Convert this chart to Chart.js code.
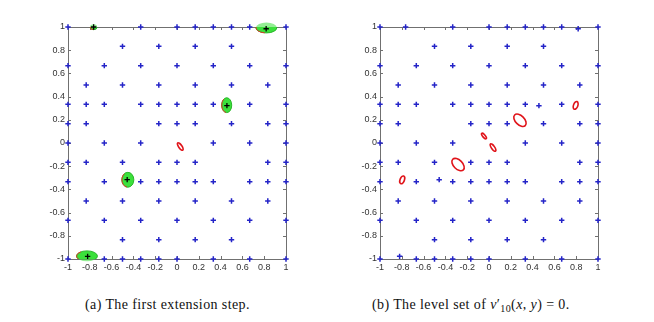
<!DOCTYPE html>
<html>
<head>
<meta charset="utf-8">
<script src="https://cdn.jsdelivr.net/npm/chart.js@4/dist/chart.umd.min.js"></script>
<style>
  body { margin: 0; background: #fff; }
  #page { position: relative; width: 654px; height: 322px; overflow: hidden; background: #fff; }
  .panel { position: absolute; top: 17px; }
  .caption { position: absolute; top: 297px; font-family: 'Liberation Serif', serif; font-size: 14px; letter-spacing: 0.4px; color: #111; white-space: nowrap; }
  .caption sub { font-size: 10px; vertical-align: -3px; }
</style>
</head>
<body>
<div id="page">
  <div class="panel" style="left:30px"><canvas id="chartA" width="266" height="262"></canvas></div>
  <div class="panel" style="left:342px"><canvas id="chartB" width="266" height="262"></canvas></div>
  <div class="caption" style="left:85px">(a) The first extension step.</div>
  <div class="caption" style="left:372px">(b) The level set of <i>v</i>′<sub>10</sub>(<i>x</i>, <i>y</i>) = 0.</div>
</div>
<script>
// axis ticks
const tickValues = [-1, -0.8, -0.6, -0.4, -0.2, 0, 0.2, 0.4, 0.6, 0.8, 1];
const tickLabels = ['-1', '-0.8', '-0.6', '-0.4', '-0.2', '0', '0.2', '0.4', '0.6', '0.8', '1'];

// nodes, one row per y level
const rowLevels = [1, 0.833, 0.667, 0.5, 0.333, 0.167, 0, -0.167, -0.333, -0.5, -0.667, -0.833, -1];
const rowPoints = [
    [-1, -0.333, 0, 0.167, 0.333, 0.5, 0.667, 1],
    [-0.5, -0.167, 0.167, 0.5],
    [-1, -0.667, -0.333, 0, 0.333, 0.667, 1],
    [-0.833, -0.5, -0.167, 0.167, 0.5, 0.833],
    [-1, -0.833, -0.667, -0.333, -0.167, 0, 0.167, 0.333, 0.667, 1],
    [-1, -0.833, -0.167, 0, 0.167, 0.5, 0.833, 1],
    [-1, -0.667, -0.333, 0.333, 0.667, 1],
    [-1, -0.833, -0.5, -0.167, 0, 0.167, 0.833, 1],
    [-1, -0.667, -0.333, -0.167, 0, 0.167, 0.333, 0.667, 0.833, 1],
    [-0.833, -0.5, -0.167, 0.167, 0.5, 0.833],
    [-1, -0.667, -0.333, 0, 0.333, 0.667, 1],
    [-0.5, -0.167, 0.167, 0.5],
    [-1, -0.667, -0.5, -0.333, -0.167, 0, 0.333, 0.667, 1]
];

// the added nodes
const specialX = [-0.765, 0.818, 0.458, -0.457, -0.82];
const specialY = [1, 0.985, 0.322, -0.316, -0.977];

// green regions of panel (a)
const blobX = [-0.765, 0.82, 0.456, -0.451, -0.826];
const blobY = [1, 0.994, 0.326, -0.317, -0.975];
const blobRx = [0.032, 0.096, 0.046, 0.055, 0.096];
const blobRy = [0.023, 0.045, 0.064, 0.064, 0.045];

// red level curves (centre, half axes, tilt in degrees)
const curveAX = [0.03];
const curveAY = [-0.03];
const curveARa = [0.041];
const curveARb = [0.015];
const curveAAng = [55];

const curveBX = [0.284, 0.795, -0.284, -0.796, -0.046, 0.037];
const curveBY = [0.196, 0.324, -0.186, -0.318, 0.06, -0.039];
const curveBRa = [0.069, 0.02, 0.069, 0.02, 0.032, 0.041];
const curveBRb = [0.041, 0.037, 0.041, 0.037, 0.012, 0.015];
const curveBAng = [45, 20, 45, 20, 50, 55];

const axisColor = '#707070';
const labelFont = { family: 'Liberation Sans', size: 9 };

function gridPoints() {
    const pts = [];
    rowLevels.forEach((y, i) => {
        rowPoints[i].forEach(x => pts.push({ x: x, y: y }));
    });
    return pts;
}

function specialPoints() {
    return specialX.map((x, i) => ({ x: x, y: specialY[i] }));
}

// box with inward ticks, like matlab
const boxPlugin = {
    id: 'box',
    beforeDatasetsDraw(chart) {
        const { ctx, chartArea: a, scales } = chart;
        ctx.save();
        ctx.strokeStyle = axisColor;
        ctx.lineWidth = 1;
        ctx.strokeRect(a.left + 0.5, a.top + 0.5, a.right - a.left, a.bottom - a.top);
        ctx.beginPath();
        tickValues.forEach(v => {
            const px = Math.round(scales.x.getPixelForValue(v)) + 0.5;
            const py = Math.round(scales.y.getPixelForValue(v)) + 0.5;
            ctx.moveTo(px, a.bottom); ctx.lineTo(px, a.bottom - 3);
            ctx.moveTo(px, a.top); ctx.lineTo(px, a.top + 3);
            ctx.moveTo(a.left, py); ctx.lineTo(a.left + 3, py);
            ctx.moveTo(a.right, py); ctx.lineTo(a.right - 3, py);
        });
        ctx.stroke();
        ctx.restore();
    }
};

// green regions drawn under the markers
const blobPlugin = {
    id: 'blobs',
    beforeDatasetsDraw(chart, args, opts) {
        if (!opts.show) return;
        const { ctx, scales, chartArea: a } = chart;
        const kx = scales.x.getPixelForValue(1) - scales.x.getPixelForValue(0);
        const ky = scales.y.getPixelForValue(0) - scales.y.getPixelForValue(1);
        blobX.forEach((x, i) => {
            const px = scales.x.getPixelForValue(x);
            const py = scales.y.getPixelForValue(blobY[i]);
            const rx = blobRx[i] * kx, ry = blobRy[i] * ky;
            // part outside the box is lighter, like the hatched fill
            ctx.save();
            ctx.globalAlpha = 0.55;
            ctx.beginPath();
            ctx.ellipse(px, py, rx, ry, 0, 0, Math.PI * 2);
            ctx.fillStyle = '#3be03b';
            ctx.fill();
            ctx.restore();
            ctx.save();
            ctx.beginPath();
            ctx.rect(a.left, a.top, a.right - a.left, a.bottom - a.top);
            ctx.clip();
            ctx.beginPath();
            ctx.ellipse(px, py, rx, ry, 0, 0, Math.PI * 2);
            ctx.fillStyle = '#3be03b';
            ctx.fill();
            ctx.lineWidth = 1;
            ctx.strokeStyle = '#2cb52c';
            ctx.stroke();
            // reddish rim on the left side
            ctx.beginPath();
            ctx.ellipse(px, py, rx, ry, 0, Math.PI * 0.55, Math.PI * 1.3);
            ctx.strokeStyle = '#d83a2a';
            ctx.stroke();
            ctx.restore();
        });
    }
};

// red level set ellipses
const curvePlugin = {
    id: 'curves',
    afterDatasetsDraw(chart, args, opts) {
        const { ctx, scales } = chart;
        const k = scales.x.getPixelForValue(1) - scales.x.getPixelForValue(0);
        ctx.save();
        ctx.strokeStyle = '#e0141a';
        ctx.lineWidth = 1.6;
        opts.xs.forEach((x, i) => {
            ctx.beginPath();
            ctx.ellipse(scales.x.getPixelForValue(x), scales.y.getPixelForValue(opts.ys[i]),
                opts.ra[i] * k, opts.rb[i] * k, opts.ang[i] * Math.PI / 180, 0, Math.PI * 2);
            ctx.stroke();
        });
        ctx.restore();
    }
};

function axisOptions(isX) {
    return {
        type: 'linear',
        position: isX ? 'bottom' : 'left',
        min: -1,
        max: 1,
        afterBuildTicks: s => { s.ticks = tickValues.map(v => ({ value: v })); },
        afterFit: s => { if (isX) s.height = 20; else s.width = 38; },
        grid: { display: false, drawTicks: false },
        border: { display: false },
        ticks: {
            autoSkip: false,
            maxRotation: 0,
            padding: 3,
            color: '#333',
            font: labelFont,
            callback: (v, i) => tickLabels[i]
        }
    };
}

function makePanel(id, withBlobs, curves) {
    const datasets = [];
    const blue = gridPoints();
    if (!withBlobs) specialPoints().forEach(p => blue.push(p));
    datasets.push({
        data: blue,
        pointStyle: 'cross',
        pointRadius: 2.7,
        borderWidth: 1.5,
        borderColor: '#2424c8',
        backgroundColor: '#2424c8',
        clip: false
    });
    if (withBlobs) {
        datasets.push({
            data: specialPoints(),
            pointStyle: 'cross',
            pointRadius: 2.7,
            borderWidth: 1.3,
            borderColor: '#000',
            clip: false
        });
    }
    return new Chart(document.getElementById(id), {
        type: 'scatter',
        data: { datasets: datasets },
        options: {
            responsive: false,
            devicePixelRatio: 1,
            animation: false,
            layout: { padding: { top: 10, right: 10, left: 0, bottom: 0 } },
            scales: { x: axisOptions(true), y: axisOptions(false) },
            plugins: {
                legend: { display: false },
                tooltip: { enabled: false },
                blobs: { show: withBlobs },
                curves: curves
            }
        },
        plugins: [boxPlugin, blobPlugin, curvePlugin]
    });
}

makePanel('chartA', true, { xs: curveAX, ys: curveAY, ra: curveARa, rb: curveARb, ang: curveAAng });
makePanel('chartB', false, { xs: curveBX, ys: curveBY, ra: curveBRa, rb: curveBRb, ang: curveBAng });
</script>
</body>
</html>
